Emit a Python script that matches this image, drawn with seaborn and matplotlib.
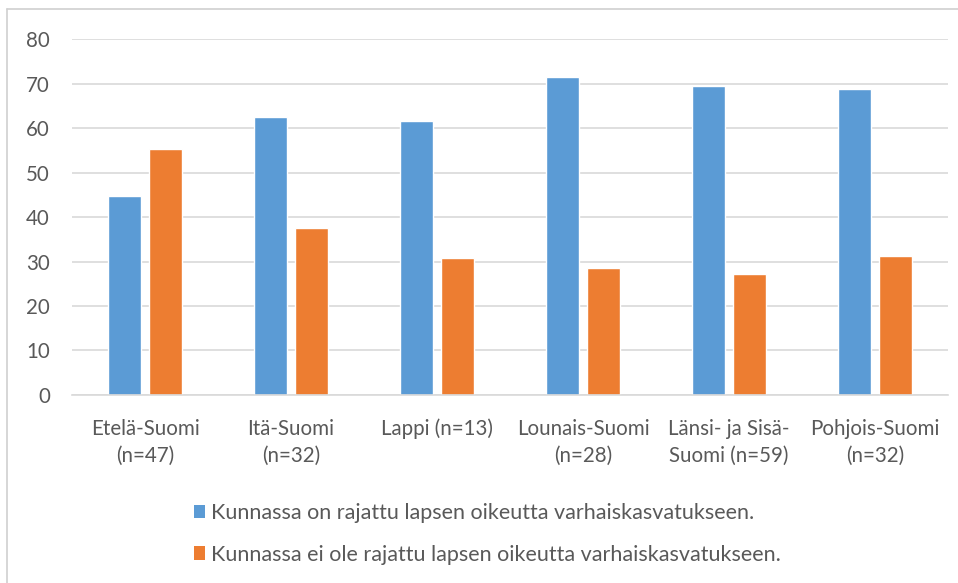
import matplotlib
matplotlib.use("Agg")
import matplotlib.pyplot as plt
from matplotlib.lines import Line2D
import seaborn as sns
import pandas as pd

# Regions (with respondent counts) and shares (%) of municipalities
regions = [
    "Etelä-Suomi\n(n=47)",
    "Itä-Suomi\n(n=32)",
    "Lappi (n=13)",
    "Lounais-Suomi\n(n=28)",
    "Länsi- ja Sisä-\nSuomi (n=59)",
    "Pohjois-Suomi\n(n=32)",
]
restricted = [44.7, 62.5, 61.5, 71.4, 69.5, 68.8]
not_restricted = [55.3, 37.5, 30.8, 28.6, 27.1, 31.3]

series_names = [
    "Kunnassa on rajattu lapsen oikeutta varhaiskasvatukseen.",
    "Kunnassa ei ole rajattu lapsen oikeutta varhaiskasvatukseen.",
]
y_ticks = [0, 10, 20, 30, 40, 50, 60, 70, 80]

df = pd.DataFrame({
    "alue": regions * 2,
    "osuus": restricted + not_restricted,
    "sarja": [series_names[0]] * len(regions) + [series_names[1]] * len(regions),
})

sns.set_theme(style="white")
plt.rcParams["font.family"] = ["Lato", "DejaVu Sans"]

text_color = "#595959"
grid_color = "#D9D9D9"
palette = ["#5B9BD5", "#ED7D31"]

fig = plt.figure(figsize=(9.58, 5.83), dpi=100)
fig.patch.set_facecolor("white")
ax = fig.add_axes([0.0752, 0.3225, 0.9144, 0.6105])

sns.barplot(
    data=df, x="alue", y="osuus", hue="sarja", palette=palette,
    width=0.56, gap=0.19, ax=ax, legend=False, saturation=1,
)

ax.set_ylim(0, 80)
ax.set_xlim(-0.5, len(regions) - 0.5)
ax.set_yticks(y_ticks)
ax.set_yticklabels([str(t) for t in y_ticks])
ax.yaxis.grid(True, color=grid_color, linewidth=1.2)
ax.set_axisbelow(True)
for side in ["top", "right", "left"]:
    ax.spines[side].set_visible(False)
ax.spines["bottom"].set_color(grid_color)
ax.spines["bottom"].set_linewidth(1.2)
ax.set_xlabel("")
ax.set_ylabel("")
ax.tick_params(axis="both", length=0, colors=text_color, labelsize=14.8)
ax.tick_params(axis="y", pad=16)
ax.tick_params(axis="x", pad=17)
for lbl in ax.get_xticklabels():
    lbl.set_linespacing(1.45)

# Legend below the plot
handles = [
    plt.Rectangle((0, 0), 1, 1, facecolor=c, edgecolor="none") for c in palette
]
fig.legend(
    handles, series_names, loc="upper left",
    bbox_to_anchor=(0.202, 0.137), bbox_transform=fig.transFigure,
    frameon=False, fontsize=15.5, labelcolor=text_color,
    handlelength=0.55, handleheight=0.6, handletextpad=0.25,
    labelspacing=1.0, borderaxespad=0, borderpad=0,
)

# Thin frame lines at the top and left edges
fig.add_artist(Line2D([7 / 958, 1.0], [1 - 9 / 583, 1 - 9 / 583],
                      transform=fig.transFigure, color="#D0D0D0", linewidth=1.2))
fig.add_artist(Line2D([7 / 958, 7 / 958], [0.0, 1 - 9 / 583],
                      transform=fig.transFigure, color="#D0D0D0", linewidth=1.2))

fig.savefig("out.png", dpi=100, facecolor="white")
